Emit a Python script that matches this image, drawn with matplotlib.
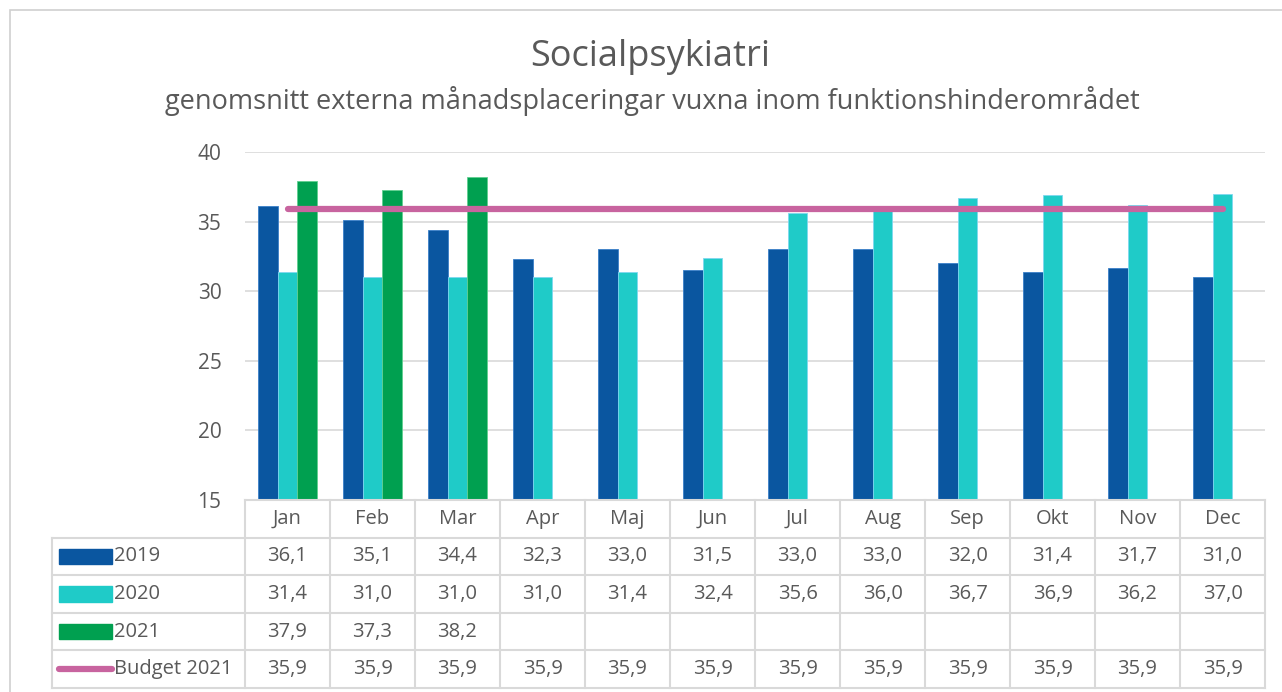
import matplotlib
matplotlib.use('Agg')

import numpy as np
import matplotlib.pyplot as plt
from matplotlib.patches import Rectangle

months = ["Jan", "Feb", "Mar", "Apr", "Maj", "Jun", "Jul", "Aug", "Sep", "Okt", "Nov", "Dec"]
y2019 = [36.1, 35.1, 34.4, 32.3, 33.0, 31.5, 33.0, 33.0, 32.0, 31.4, 31.7, 31.0]
y2020 = [31.4, 31.0, 31.0, 31.0, 31.4, 32.4, 35.6, 36.0, 36.7, 36.9, 36.2, 37.0]
y2021 = [37.9, 37.3, 38.2, None, None, None, None, None, None, None, None, None]
budget = [35.9] * 12

series_names = ["2019", "2020", "2021", "Budget 2021"]
colors = ["#0a56a0", "#1fcbc8", "#00a050", "#c8649f"]
txt = "#595959"
gridc = "#d9d9d9"

plt.rcParams['font.family'] = ['Open Sans', 'DejaVu Sans']

W, H = 1282, 692
fig = plt.figure(figsize=(W / 100, H / 100), dpi=100)

# outer chart border
fig.patches.append(Rectangle((10 / W, -0.01), 1.1, (H - 10) / H + 0.01, transform=fig.transFigure,
                             fill=False, edgecolor="#d0d0d0", linewidth=1.2))

def px(x0, y0, x1, y1):
    return [x0 / W, 1 - y1 / H, (x1 - x0) / W, (y1 - y0) / H]

ax = fig.add_axes(px(245, 152, 1265, 500))
x = np.arange(len(months))
bw = 0.23
v21 = np.array([np.nan if v is None else v for v in y2021])
ax.bar(x - bw, y2019, bw, color=colors[0], edgecolor="#3a7fc8", linewidth=0.6, zorder=3)
ax.bar(x, y2020, bw, color=colors[1], edgecolor="#7fd8f0", linewidth=0.6, zorder=3)
ax.bar(x + bw, v21, bw, color=colors[2], edgecolor="#60d090", linewidth=0.6, zorder=3)
ax.plot(x, budget, color=colors[3], linewidth=4.5, solid_capstyle='round', zorder=4)
ax.set_xlim(-0.5, 11.5)
ax.set_ylim(15, 40)
ax.set_yticks([15, 20, 25, 30, 35, 40])
ax.yaxis.grid(True, color=gridc, linewidth=1.2, zorder=0)
ax.set_xticks([])
ax.tick_params(axis='y', length=0, labelsize=15, labelcolor=txt, pad=17)
for s in ax.spines.values():
    s.set_visible(False)

# data table
left_px = 52
tax = fig.add_axes(px(left_px, 500, 1265, 688))
xl = -0.5 - (245 - left_px) / 85.0
tax.set_xlim(xl, 11.5)
tax.set_ylim(5, 0)
tax.axis('off')
lc = dict(color=gridc, linewidth=1.5, clip_on=False)
tax.plot([-0.5, 11.5], [0, 0], **lc)
for r in range(1, 6):
    tax.plot([xl, 11.5], [r, r], **lc)
tax.plot([xl, xl], [1, 5], **lc)
for b in np.arange(-0.5, 12.5, 1):
    tax.plot([b, b], [0, 5], **lc)
for i, m in enumerate(months):
    tax.text(i, 0.5, m, ha='center', va='center', fontsize=14.5, color=txt)

rows = [y2019, y2020, y2021, budget]
for r, (name, vals, c) in enumerate(zip(series_names, rows, colors)):
    yy = r + 1.5
    if r < 3:
        tax.add_patch(Rectangle((xl + 0.08, yy - 0.2), 0.62, 0.4, color=c, clip_on=False))
    else:
        tax.plot([xl + 0.08, xl + 0.7], [yy, yy], color=c, linewidth=4.5, solid_capstyle='round', clip_on=False)
    tax.text(xl + 0.73, yy, name, ha='left', va='center', fontsize=14.5, color=txt)
    for i, v in enumerate(vals):
        if v is not None:
            tax.text(i, yy, f"{v:.1f}".replace('.', ','), ha='center', va='center', fontsize=14.5, color=txt)

fig.text(650 / W, 1 - 57 / H, "Socialpsykiatri", ha='center', va='center', fontsize=26, color=txt)
fig.text(652 / W, 1 - 101 / H, "genomsnitt externa månadsplaceringar vuxna inom funktionshinderområdet",
         ha='center', va='center', fontsize=19.5, color=txt)

fig.savefig("out.png", dpi=100)
